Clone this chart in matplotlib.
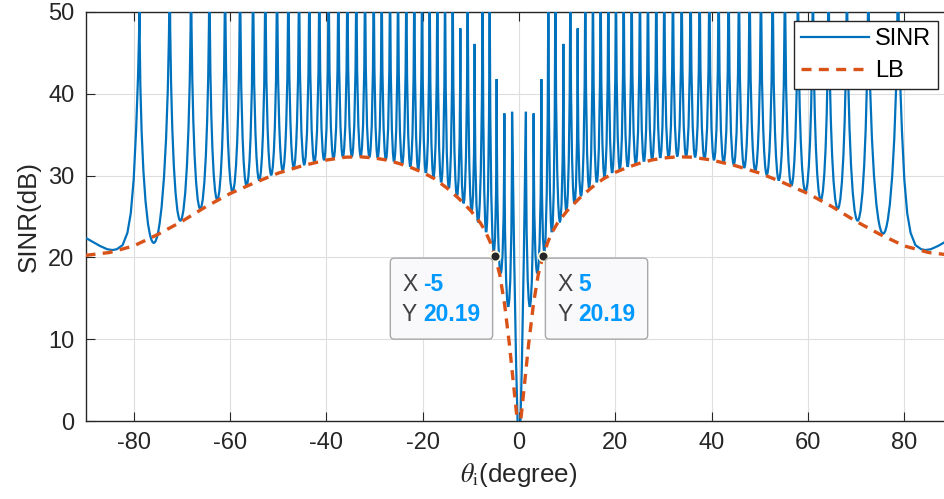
import matplotlib.pyplot as plt
from matplotlib.path import Path
from matplotlib.patches import PathPatch, FancyBboxPatch
from matplotlib.lines import Line2D
from matplotlib.transforms import IdentityTransform

plt.rcParams['font.family'] = ['Liberation Sans', 'DejaVu Sans']
plt.rcParams['mathtext.fontset'] = 'stix'
plt.rcParams['axes.unicode_minus'] = False

# Both curves are symmetric about 0 deg, so only the positive half is stored.
# SINR blows up at these angles (60 dB = off the top of the plot)
spike_deg = [1.44, 3.04, 4.64, 6.09, 7.55, 9.21, 10.66, 12.18, 13.77, 15.35,
             16.95, 18.55, 20.13, 21.73, 23.39, 25.11, 26.77, 28.51, 30.16, 31.96,
             33.77, 35.63, 37.50, 39.52, 41.45, 43.52, 45.66, 47.88, 50.23, 52.66,
             55.21, 57.91, 61.02, 64.28, 68.08, 72.52, 78.67]
spike_db = [37.8, 37.6, 41.8, 60, 60, 46.1, 60, 48.0, 60, 60,
            60, 60, 60, 60, 60, 60, 60, 60, 60, 60,
            60, 60, 60, 60, 60, 60, 60, 60, 60, 60,
            60, 60, 60, 60, 60, 60, 60]
# minimum of SINR between two neighbouring spikes
trough_db = [14.0, 18.1, 21.0, 23.1, 24.6, 25.9, 26.8, 27.7, 28.5, 29.2,
             29.85, 30.35, 30.75, 31.1, 31.45, 31.75, 32.0, 32.2, 32.3, 32.4,
             32.37, 32.3, 32.1, 31.95, 31.65, 31.35, 31.0, 30.6, 30.1, 29.45,
             28.8, 28.05, 27.05, 25.95, 24.5, 22.9]
# notch at broadside and the last lobe towards endfire
notch_deg = [0.0, 0.3, 0.6, 1.0, 1.44]
notch_db = [-4.0, 0.0, 7.0, 20.0, 37.8]
edge_deg = [78.67, 78.85, 79.1, 79.5, 80.0, 80.6, 81.3, 82.3, 83.5, 84.4,
            85.5, 87.0, 88.5, 90.0]
edge_db = [60.0, 48.0, 42.0, 35.5, 29.5, 25.4, 23.0, 21.5, 21.0, 20.9,
           21.0, 21.4, 21.9, 22.4]

# lower bound
lb_deg = [0, 1, 2, 3, 4, 5, 6, 7, 8, 10, 12.5, 15, 17.5, 20, 22.5, 25, 27.5,
          30, 33, 36, 40, 45, 50, 55, 60, 65, 70, 75, 80, 85, 90]
lb_db = [-2.0, 3.7, 9.4, 14.3, 17.9, 20.19, 21.9, 23.2, 24.2, 25.7, 27.2, 28.5,
         29.6, 30.4, 31.0, 31.5, 31.9, 32.15, 32.3, 32.25, 31.9, 31.2, 30.3,
         29.1, 27.8, 26.2, 24.4, 22.8, 21.4, 20.6, 20.25]

tip_deg = [-5, 5]
tip_db = [20.19, 20.19]

blue = '#0072BD'
orange = '#D95319'
dark = '#262626'


def lobe(verts, codes, xa, ya, xb, yb, low):
    # U-shaped lobe with vertical walls at both spikes, bottom at `low`
    c = (8 * low - ya - yb) / 6
    verts += [(xa, c), (xb, c), (xb, yb)]
    codes += [Path.CURVE4] * 3


verts, codes = [], []
for d, v in zip(reversed(edge_deg), reversed(edge_db)):
    verts.append((-d, v))
    codes.append(Path.LINETO)
codes[0] = Path.MOVETO
for k in reversed(range(len(trough_db))):
    lobe(verts, codes, -spike_deg[k + 1], spike_db[k + 1],
         -spike_deg[k], spike_db[k], trough_db[k])
for d, v in zip(reversed(notch_deg[:-1]), reversed(notch_db[:-1])):
    verts.append((-d, v))
    codes.append(Path.LINETO)
for d, v in zip(notch_deg[1:], notch_db[1:]):
    verts.append((d, v))
    codes.append(Path.LINETO)
for k in range(len(trough_db)):
    lobe(verts, codes, spike_deg[k], spike_db[k],
         spike_deg[k + 1], spike_db[k + 1], trough_db[k])
for d, v in zip(edge_deg[1:], edge_db[1:]):
    verts.append((d, v))
    codes.append(Path.LINETO)

lb_x = [-d for d in reversed(lb_deg)] + lb_deg[1:]
lb_y = list(reversed(lb_db)) + lb_db[1:]

fig = plt.figure(figsize=(9.44, 4.99), dpi=100)
ax = fig.add_axes([85.5 / 944, 78 / 499, 867 / 944, 409 / 499])

ax.add_patch(PathPatch(Path(verts, codes), fill=False, edgecolor=blue,
                       lw=1.6, zorder=3))
ax.plot(lb_x, lb_y, color=orange, lw=2.4, dashes=(3.0, 2.2), zorder=4)

ax.set_xlim(-90, 90)
ax.set_ylim(0, 50)
ax.set_xticks(range(-80, 81, 20))
ax.set_yticks(range(0, 51, 10))
ax.grid(True, color='#dedede', lw=0.8)
ax.set_axisbelow(True)
ax.tick_params(direction='in', length=6.5, width=0.8, color=dark,
               labelcolor=dark, labelsize=17, top=True, right=True)
ax.tick_params(axis='x', pad=8)
ax.tick_params(axis='y', pad=8)
for s in ax.spines.values():
    s.set_color(dark)
    s.set_linewidth(1.0)

ax.set_xlabel(r'$\theta_{\mathrm{i}}$(degree)', fontsize=18.7, color=dark,
              labelpad=5)
ax.set_ylabel('SINR(dB)', fontsize=18.7, color=dark, labelpad=5)

handles = [Line2D([], [], color=blue, lw=1.6),
           Line2D([], [], color=orange, lw=2.4, dashes=(3.0, 2.2))]
leg = ax.legend(handles, ['SINR', 'LB'], loc='upper right',
                bbox_to_anchor=(0.9836, 0.9773), borderaxespad=0,
                fontsize=17, fancybox=False, framealpha=1, edgecolor=dark,
                handlelength=2.9, handletextpad=0.25, labelspacing=0.4,
                borderpad=0.3)
leg.get_frame().set_linewidth(1.0)
leg.set_zorder(10)

# data tips
ax.plot(tip_deg, tip_db, 'o', ms=7, mfc=dark, mec='#fffbe0', mew=1.2,
        zorder=6, clip_on=False)
for d, v in zip(tip_deg, tip_db):
    mx, my = ax.transData.transform((d, v))
    w, h = 102.3, 81.0
    x0 = mx - 2.3 - w if d < 0 else mx + 2.3
    top = my - 2.3
    ax.add_patch(FancyBboxPatch((x0, top - h), w, h,
                                boxstyle='round,pad=0,rounding_size=4',
                                transform=IdentityTransform(),
                                fc='#f9f9fc', ec='#a8a8a8', lw=1.0,
                                zorder=7, clip_on=False))
    for row, (lab, val) in enumerate([('X', f'{d:g}'), ('Y', f'{v:.2f}')]):
        yy = top - 26.5 - 30 * row
        ax.text(x0 + 11.7, yy, lab, transform=IdentityTransform(),
                fontsize=16.5, color='#404040', va='center', zorder=8)
        ax.text(x0 + 33.3, yy, val, transform=IdentityTransform(),
                fontsize=16.5, color='#0099FF', fontweight='bold',
                va='center', zorder=8)

fig.savefig('out.png', dpi=100)
